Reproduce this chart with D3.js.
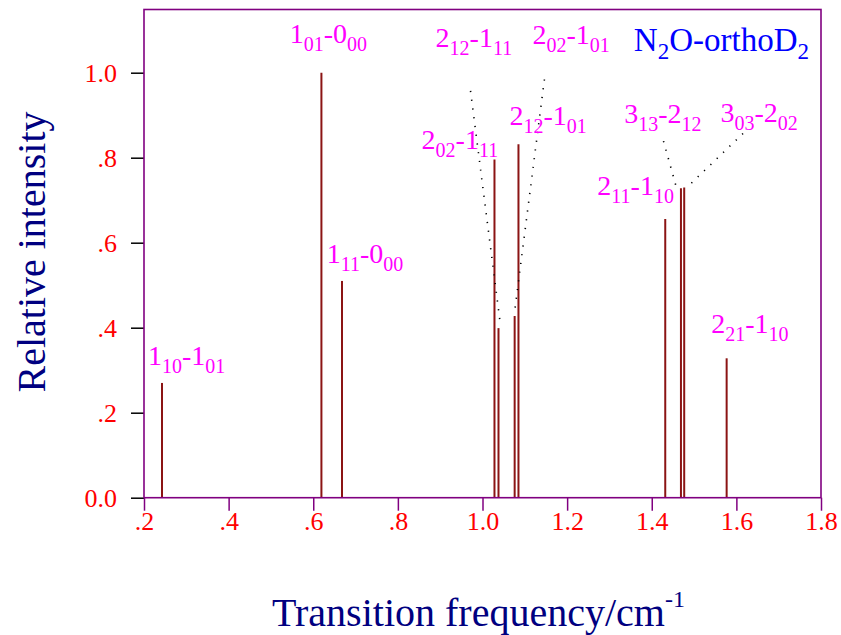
<!DOCTYPE html>
<html><head><meta charset="utf-8">
<script src="https://cdn.jsdelivr.net/npm/d3@7"></script>
<style>body{margin:0;background:#fff}svg{display:block}
svg text{font-family:"Liberation Serif","Times New Roman",Times,"DejaVu Serif",serif;}</style>
</head><body><svg id="c" width="841" height="635"></svg>
<script>
// ---- data ----
const freqs       = [0.2425, 0.6193, 0.668, 1.0283, 1.0378, 1.076, 1.085, 1.4319, 1.469, 1.4767, 1.577];
const intensities = [0.27,   1.0,    0.51,  0.796,  0.399,  0.4275, 0.8315, 0.656, 0.728, 0.730, 0.328];
const xTicks      = [0.2, 0.4, 0.6, 0.8, 1.0, 1.2, 1.4, 1.6, 1.8];
const xTickLabels = [".2", ".4", ".6", ".8", "1.0", "1.2", "1.4", "1.6", "1.8"];
const yTicks      = [0, 0.2, 0.4, 0.6, 0.8, 1.0];
const yTickLabels = ["0.0", ".2", ".4", ".6", ".8", "1.0"];
// transition labels: upper J, Ka Kc, lower J, Ka Kc ; anchored in data coordinates
const labelTexts = ["1_10-1_01","1_01-0_00","1_11-0_00","2_02-1_11","2_12-1_11","2_12-1_01","2_02-1_01","2_11-1_10","3_13-2_12","3_03-2_02","2_21-1_10"];
const labelX     = [0.2094, 0.5445, 0.6319, 0.856, 0.8891, 1.0637, 1.118, 1.2714, 1.335, 1.5625, 1.5405];
const labelY     = [0.312, 1.070, 0.552, 0.8205, 1.060, 0.877, 1.0675, 0.712, 0.8817, 0.8845, 0.3875];
// dotted leader lines (data coords)
const leaderX1 = [0.9717, 1.1463, 1.4278, 1.6157];
const leaderY1 = [0.957, 0.984, 0.839, 0.857];
const leaderX2 = [1.0425, 1.0755, 1.4585, 1.482];
const leaderY2 = [0.406, 0.4346, 0.729, 0.729];

// ---- layout ----
const W = 841, H = 635;
const m = {left: 144, right: 20, top: 9.5, bottom: 137.3};
const x = d3.scaleLinear().domain([0.2, 1.8]).range([m.left, W - m.right]);
const y = d3.scaleLinear().domain([0, 1.1487]).range([H - m.bottom, m.top]);

const svg = d3.select("#c");

// bars
svg.append("g").selectAll("line").data(freqs).join("line")
  .attr("x1", d => x(d)).attr("x2", d => x(d))
  .attr("y1", y(0)).attr("y2", (d, i) => y(intensities[i]))
  .attr("stroke", "#8b1414").attr("stroke-width", 2);

// leader lines
svg.append("g").selectAll("line").data(leaderX1).join("line")
  .attr("x1", d => x(d)).attr("y1", (d, i) => y(leaderY1[i]))
  .attr("x2", (d, i) => x(leaderX2[i])).attr("y2", (d, i) => y(leaderY2[i]))
  .attr("stroke", "#000").attr("stroke-width", 1.6)
  .attr("stroke-dasharray", "1.2,7.6");

// x axis
const xAxis = d3.axisBottom(x).tickValues(xTicks).tickSize(13)
  .tickFormat((d, i) => xTickLabels[i]);
const gx = svg.append("g").attr("transform", `translate(0,${y(0)})`).call(xAxis)
  .attr("font-family", null);
gx.select(".domain").remove();
gx.selectAll(".tick line").attr("stroke", "#800080").attr("stroke-width", 1.5);
gx.selectAll(".tick text").attr("fill", "#ff0000")
  .attr("font-size", 26).attr("y", 14).attr("dy", "0.71em");

// y axis
const yAxis = d3.axisLeft(y).tickValues(yTicks).tickSize(13)
  .tickFormat((d, i) => yTickLabels[i]);
const gy = svg.append("g").attr("transform", `translate(${x(0.2)},0)`).call(yAxis)
  .attr("font-family", null);
gy.select(".domain").remove();
gy.selectAll(".tick line").attr("stroke", "#000").attr("stroke-width", 1.5);
gy.selectAll(".tick text").attr("fill", "#ff0000")
  .attr("font-size", 26).attr("x", -27).attr("dy", "0.34em");

// frame
svg.append("rect").attr("x", x(0.2)).attr("y", y(1.1487))
  .attr("width", x(1.8) - x(0.2)).attr("height", y(0) - y(1.1487))
  .attr("fill", "none").attr("stroke", "#800080").attr("stroke-width", 1.6);

// transition labels
function addSubText(g, str, fMain, fSub, drop) {
  const parts = str.split("-");
  parts.forEach((p, k) => {
    const [a, b] = p.split("_");
    g.append("tspan").attr("font-size", fMain).text((k ? "-" : "") + a)
      .attr("dy", k ? -drop : null);
    g.append("tspan").attr("font-size", fSub).attr("dy", drop).text(b);
  });
}
labelTexts.forEach((t, i) => {
  const tx = svg.append("text").attr("x", x(labelX[i])).attr("y", y(labelY[i]))
    .attr("fill", "#ff00ff");
  addSubText(tx, t, 28, 20, 8);
});

// title
const title = svg.append("text").attr("x", 809).attr("y", 51).attr("text-anchor", "end")
  .attr("fill", "#0000ff").attr("font-size", 33);
title.append("tspan").text("N");
title.append("tspan").attr("font-size", 23).attr("dy", 8).text("2");
title.append("tspan").attr("dy", -8).text("O-orthoD");
title.append("tspan").attr("font-size", 23).attr("dy", 8).text("2");

// axis titles
const xt = svg.append("text").attr("x", 272).attr("y", 626)
  .attr("fill", "#000080").attr("font-size", 40);
xt.append("tspan").text("Transition frequency/cm");
xt.append("tspan").attr("font-size", 24).attr("dy", -19).text("-1");

svg.append("text").attr("transform", "translate(45,252) rotate(-90)")
  .attr("text-anchor", "middle").attr("fill", "#000080")
  .attr("font-size", 40).text("Relative intensity");
</script></body></html>
